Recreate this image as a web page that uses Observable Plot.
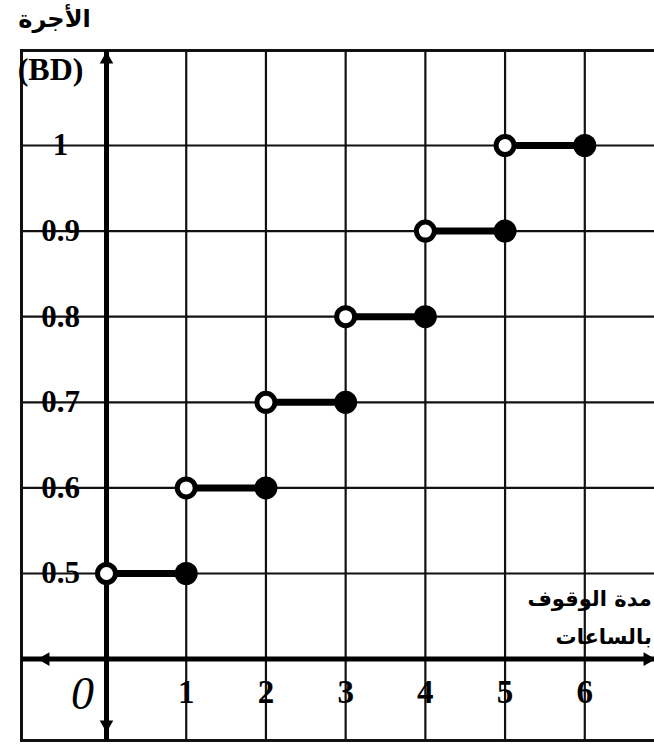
<!DOCTYPE html>
<html>
<head>
<meta charset="utf-8">
<script src="https://cdn.jsdelivr.net/npm/d3@7"></script>
<script src="https://cdn.jsdelivr.net/npm/@observablehq/plot@0.6"></script>
<style>
  html, body { margin: 0; padding: 0; background: #fff; overflow: hidden; }
  #chart svg { display: block; }
</style>
</head>
<body>
<div id="chart"></div>
<script>
// ---- data ----
const hours = [0, 1, 2, 3, 4, 5, 6];            // boundaries of each parking-hour step
const fees = [0.5, 0.6, 0.7, 0.8, 0.9, 1];      // fee (BD) on each step
const xTickValues = [1, 2, 3, 4, 5, 6];
const xTickLabels = ["1", "2", "3", "4", "5", "6"];
const yTickLabels = ["0.5", "0.6", "0.7", "0.8", "0.9", "1"];
const gridHours = [1, 2, 3, 4, 5, 6, 7];
const axisFee = [0.4];                           // level where the (broken) hours axis sits
const yTitle = ["الأجرة", "(BD)"];
const xTitle = ["مدة الوقوف", "بالساعات"];
const originLabel = ["0"];

const steps = fees.map((f, i) => ({start: hours[i], end: hours[i + 1], fee: f}));
const yTicks = fees.map((f, i) => ({fee: f, label: yTickLabels[i]}));
const xTicks = xTickValues.map((h, i) => ({h, label: xTickLabels[i]}));

const serif = "'Liberation Serif', 'DejaVu Serif', serif";
const arabic = "'DejaVu Sans', sans-serif";

const chart = Plot.plot({
  width: 654,
  height: 744,
  marginTop: 50,
  marginLeft: 21,
  marginBottom: 4,
  marginRight: -20,
  x: {domain: [-1, 7], range: [26.3, 664], axis: null},
  y: {domain: [0.3, 1.1], range: [744.2, 59.4], axis: null},
  marks: [
    // grid
    Plot.ruleX(gridHours, {stroke: "#111", strokeWidth: 2.2}),
    Plot.ruleY(fees, {stroke: "#111", strokeWidth: 2.2}),
    Plot.frame({stroke: "#111", strokeWidth: 3}),
    // axes
    Plot.ruleX([0], {stroke: "#000", strokeWidth: 5}),
    Plot.ruleY(axisFee, {stroke: "#000", strokeWidth: 5}),
    Plot.dot([0], {x: d => d, frameAnchor: "top", symbol: "triangle2", r: 6.5, fill: "#000", rotate: 0, dy: 9}),
    Plot.dot([0], {x: d => d, frameAnchor: "bottom", symbol: "triangle2", r: 6.5, fill: "#000", rotate: 180, dy: -16}),
    Plot.dot(axisFee, {y: d => d, frameAnchor: "left", symbol: "triangle2", r: 6.5, fill: "#000", rotate: -90, dx: 24}),
    Plot.dot(axisFee, {y: d => d, frameAnchor: "right", symbol: "triangle2", r: 6.5, fill: "#000", rotate: 90, dx: -27}),
    // step function
    Plot.ruleY(steps, {x1: "start", x2: "end", y: "fee", stroke: "#000", strokeWidth: 7}),
    Plot.dot(steps, {x: "start", y: "fee", r: 9, fill: "#fff", stroke: "#000", strokeWidth: 5}),
    Plot.dot(steps, {x: "end", y: "fee", r: 11.5, fill: "#000"}),
    // tick labels
    Plot.text(yTicks, {x: () => 0, y: "fee", text: "label", dx: -46, fontFamily: serif, fontWeight: "bold", fontSize: 31, fill: "#000"}),
    Plot.text(xTicks, {x: "h", y: () => axisFee[0], text: "label", dy: 33, fontFamily: serif, fontWeight: "bold", fontSize: 33, fill: "#000"}),
    Plot.text(originLabel, {x: () => 0, y: () => axisFee[0], text: d => d, dx: -24, dy: 35, fontFamily: serif, fontStyle: "italic", fontSize: 46, fill: "#000"}),
    // titles
    Plot.text([yTitle[1]], {frameAnchor: "top-left", text: d => d, textAnchor: "middle", lineAnchor: "middle", dx: 29, dy: 19, fontFamily: serif, fontWeight: "bold", fontSize: 32, fill: "#000"}),
    Plot.text([yTitle[0]], {frameAnchor: "top-left", text: d => d, textAnchor: "middle", lineAnchor: "middle", dx: 33, dy: -31, fontFamily: arabic, fontWeight: "bold", fontSize: 24, fill: "#000"}),
    Plot.text([xTitle[0]], {x: () => 6, y: () => axisFee[0], text: d => d, dx: 67, dy: -60, textAnchor: "end", fontFamily: arabic, fontWeight: "bold", fontSize: 21, fill: "#000"}),
    Plot.text([xTitle[1]], {x: () => 6, y: () => axisFee[0], text: d => d, dx: 67, dy: -22, textAnchor: "end", fontFamily: arabic, fontWeight: "bold", fontSize: 21, fill: "#000"})
  ]
});
document.getElementById("chart").appendChild(chart);
</script>
</body>
</html>
